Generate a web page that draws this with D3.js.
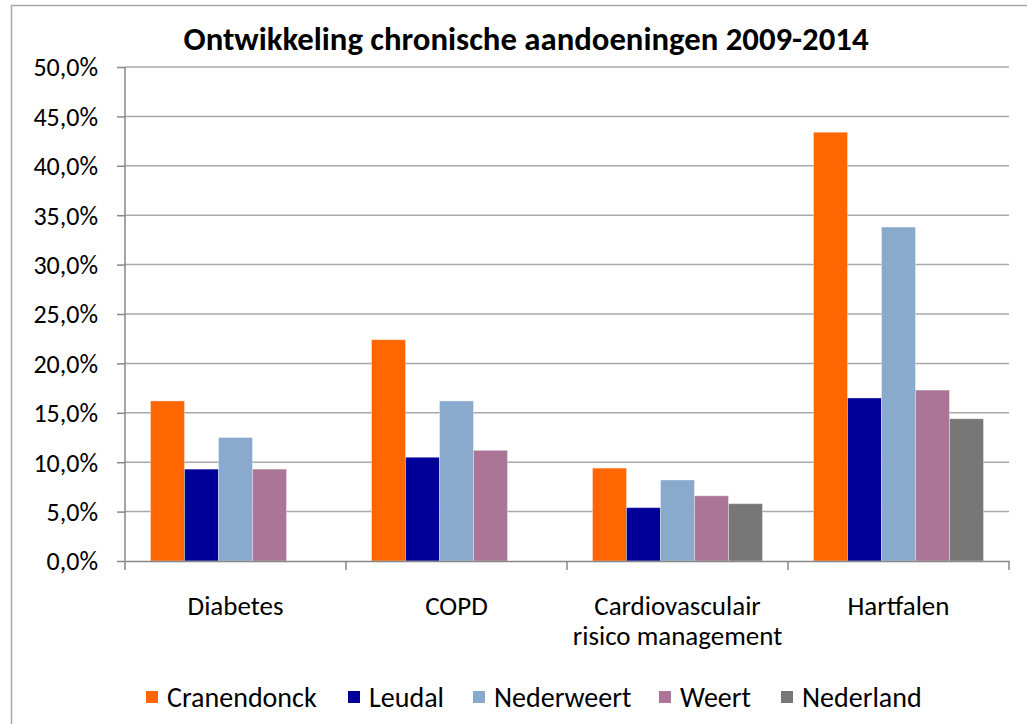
<!DOCTYPE html>
<html>
<head>
<meta charset="utf-8">
<script src="https://cdn.jsdelivr.net/npm/d3@7"></script>
<style>
  body { margin: 0; background: #fff; }
  svg text { font-family: Carlito, "Open Sans", "Liberation Sans", sans-serif; fill: #000; }
</style>
</head>
<body>
<div id="chart"></div>
<script>
// chart data
const categories = ["Diabetes", "COPD", "Cardiovasculair\nrisico management", "Hartfalen"];
const seriesNames = ["Cranendonck", "Leudal", "Nederweert", "Weert", "Nederland"];
const colors = ["#ff6600", "#000099", "#89a9cd", "#aa7596", "#777777"];
const cranendonck = [16.2, 22.4, 9.4, 43.4];
const leudal = [9.3, 10.5, 5.4, 16.5];
const nederweert = [12.5, 16.2, 8.2, 33.8];
const weert = [9.3, 11.2, 6.6, 17.3];
const nederland = [null, null, 5.8, 14.4];
const yTicks = [0, 5, 10, 15, 20, 25, 30, 35, 40, 45, 50];

const seriesValues = [cranendonck, leudal, nederweert, weert, nederland];

const W = 1027, H = 724;
const margin = {left: 125, right: 18, top: 67, bottom: 163};
const plotW = W - margin.left - margin.right;
const plotH = H - margin.top - margin.bottom;

const svg = d3.select("#chart").append("svg")
    .attr("width", W).attr("height", H);

// outer chart border
svg.append("rect")
    .attr("x", 11.5).attr("y", 5.5)
    .attr("width", W).attr("height", H)
    .attr("fill", "none").attr("stroke", "#a6a6a6").attr("stroke-width", 1.5);

svg.append("text")
    .attr("x", 526).attr("y", 50)
    .attr("text-anchor", "middle")
    .attr("font-size", 32).attr("font-weight", "bold")
    .attr("textLength", 685).attr("lengthAdjust", "spacingAndGlyphs")
    .text("Ontwikkeling chronische aandoeningen 2009-2014");

const g = svg.append("g")
    .attr("transform", "translate(" + margin.left + "," + margin.top + ")");

const x = d3.scaleBand()
    .domain(categories)
    .range([0, plotW]);

// bars take 170 px of each 221 px category
const groupW = 170;
const xSub = d3.scaleBand()
    .domain(seriesNames)
    .range([(x.bandwidth() - groupW) / 2, (x.bandwidth() + groupW) / 2]);

const y = d3.scaleLinear()
    .domain([0, 50])
    .range([plotH, 0]);

// gridlines
g.append("g")
    .selectAll("line")
    .data(yTicks.slice(1))
    .enter().append("line")
    .attr("x1", 0).attr("x2", plotW)
    .attr("y1", d => y(d)).attr("y2", d => y(d))
    .attr("stroke", "#a8a8a8").attr("stroke-width", 1.5);

// bars
const groups = g.append("g")
    .selectAll("g")
    .data(categories)
    .enter().append("g")
    .attr("transform", d => "translate(" + x(d) + ",0)");

groups.selectAll("rect")
    .data((d, i) => seriesNames.map((s, j) => ({key: s, value: seriesValues[j][i], color: colors[j]})))
    .enter().filter(d => d.value != null).append("rect")
    .attr("x", d => xSub(d.key))
    .attr("y", d => y(d.value))
    .attr("width", xSub.bandwidth())
    .attr("height", d => plotH - y(d.value))
    .attr("fill", d => d.color)
    .attr("stroke", "rgba(255,255,255,0.35)").attr("stroke-width", 1);

// y axis
const yAxis = g.append("g")
    .call(d3.axisLeft(y).tickValues(yTicks).tickSize(8).tickPadding(19)
        .tickFormat(d => d3.format(".1f")(d).replace(".", ",") + "%"));
yAxis.select(".domain").attr("stroke", "#878787").attr("stroke-width", 1.5)
    .attr("d", "M0," + (plotH + 9) + "V0");
yAxis.selectAll(".tick line").attr("stroke", "#878787").attr("stroke-width", 1.5);
yAxis.selectAll(".tick text").attr("font-size", 26).attr("dy", "0.34em");

// x axis
const xAxis = g.append("g")
    .attr("transform", "translate(0," + plotH + ")")
    .call(d3.axisBottom(x).tickSize(0).tickFormat(""));
xAxis.select(".domain").attr("stroke", "#878787").attr("stroke-width", 1.5);
xAxis.selectAll(".tick line").remove();
xAxis.append("g").selectAll("line")
    .data(categories)
    .enter().append("line")
    .attr("x1", (d, i) => x.step() * (i + 1)).attr("x2", (d, i) => x.step() * (i + 1))
    .attr("y1", 0).attr("y2", 9)
    .attr("stroke", "#878787").attr("stroke-width", 1.5);

categories.forEach(c => {
  const lines = c.split("\n");
  const t = g.append("text")
      .attr("x", x(c) + x.bandwidth() / 2)
      .attr("y", plotH + 54)
      .attr("text-anchor", "middle")
      .attr("font-size", 27);
  lines.forEach((l, i) => {
    t.append("tspan").attr("x", x(c) + x.bandwidth() / 2).attr("dy", i ? 30 : 0).text(l);
  });
});

// legend
const legendX = [146, 348, 473, 659, 781];
const legend = svg.append("g").selectAll("g")
    .data(seriesNames)
    .enter().append("g")
    .attr("transform", (d, i) => "translate(" + legendX[i] + ",691)");
legend.append("rect")
    .attr("width", 12).attr("height", 12)
    .attr("fill", (d, i) => colors[i]);
legend.append("text")
    .attr("x", 21).attr("y", 6).attr("dy", "0.34em")
    .attr("font-size", 28)
    .text(d => d);
</script>
</body>
</html>
